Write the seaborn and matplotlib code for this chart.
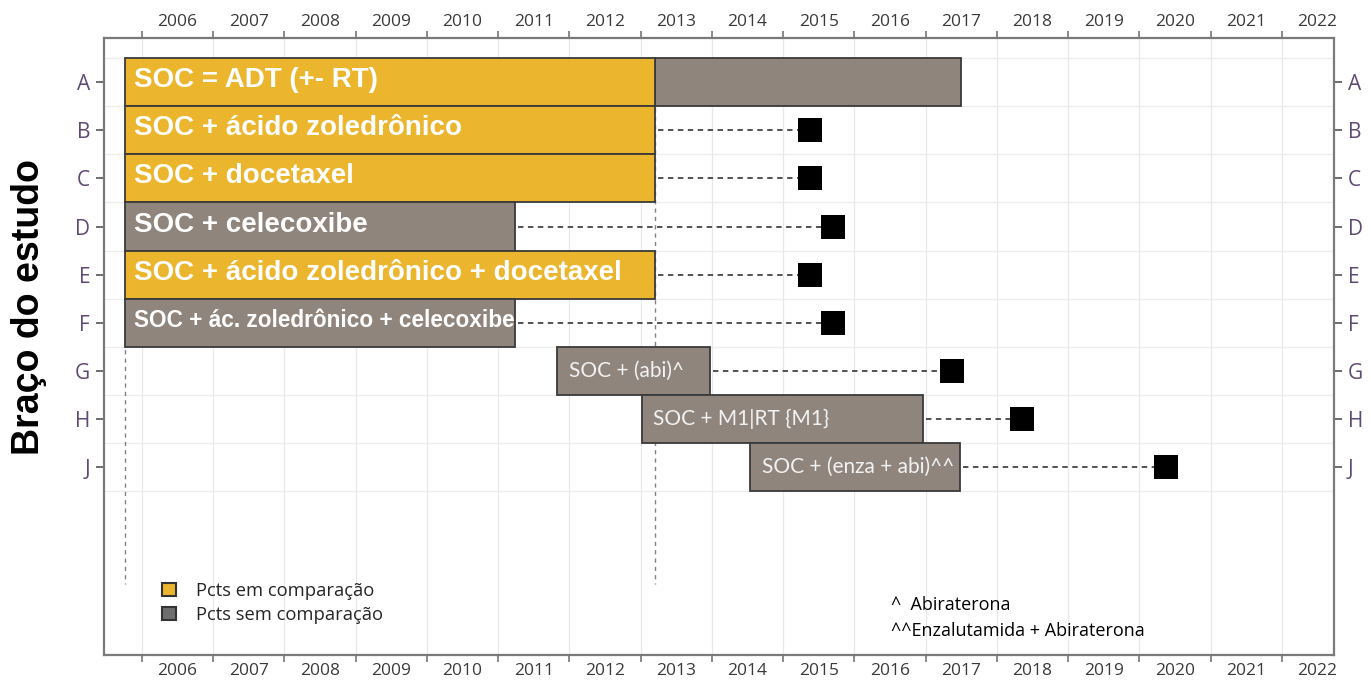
import matplotlib
matplotlib.use("Agg")
from matplotlib import pyplot as plt
from matplotlib.ticker import FixedLocator, NullFormatter
from matplotlib.patches import Patch
import pandas as pd
import seaborn as sns

# study arms (rows, top to bottom)
arms = ["A", "B", "C", "D", "E", "F", "G", "H", "J"]
arm_labels = ["SOC = ADT (+- RT)", "SOC + ácido zoledrônico", "SOC + docetaxel", "SOC + celecoxibe",
              "SOC + ácido zoledrônico + docetaxel", "SOC + ác. zoledrônico + celecoxibe",
              "SOC + (abi)^", "SOC + M1|RT {M1}", "SOC + (enza + abi)^^"]
start = [2005.76, 2005.76, 2005.76, 2005.76, 2005.76, 2005.76, 2011.83, 2013.02, 2014.54]
accrual_end = [2013.2, 2013.2, 2013.2, 2011.24, 2013.2, 2011.24, 2013.98, 2016.97, 2017.48]
compared = [True, True, True, False, True, False, False, False, False]
# extra non-comparison accrual of the control arm
control_end = 2017.5
# reporting markers (None for A)
report = [None, 2015.38, 2015.38, 2015.7, 2015.38, 2015.7, 2017.37, 2018.36, 2020.37]
years = list(range(2006, 2023))

YELLOW = "#EBB62E"
GRAY = "#8F857D"
PURPLE = "#5E4A75"

sns.set_theme(style="white")
plt.rcParams["font.family"] = ["Open Sans", "DejaVu Sans"]

fig = plt.figure(figsize=(13.71, 6.88), dpi=100)
ax = fig.add_axes([0.0759, 0.048, 0.897, 0.897])

ypos = list(range(len(arms)))

# grid
for yr in years:
    ax.axvline(yr, color="#e8e8e8", lw=0.9, zorder=0)
for y in ypos:
    ax.axhline(y - 0.5, color="#ececec", lw=0.9, zorder=0)
ax.axhline(ypos[-1] + 0.5, color="#ececec", lw=0.9, zorder=0)

# dashed vertical reference lines
for xv in [start[0], accrual_end[0]]:
    ax.plot([xv, xv], [-0.5, 10.42], ls=(0, (3, 3)), color="#8a7a90", lw=1.0, zorder=1)

# control arm continuation
ax.barh(0, control_end - accrual_end[0], left=accrual_end[0], height=1.0, color=GRAY,
        edgecolor="#3a3a3a", lw=1.3, zorder=3)

for i, arm in enumerate(arms):
    col = YELLOW if compared[i] else GRAY
    ax.barh(i, accrual_end[i] - start[i], left=start[i], height=1.0, color=col,
            edgecolor="#3a3a3a", lw=1.3, zorder=3)
    if report[i] is not None:
        ax.plot([accrual_end[i] + 0.04, report[i]], [i, i], ls=(0, (3, 2.5)), color="#444444",
                lw=1.3, zorder=2)

df = pd.DataFrame({"y": [y for y, r in zip(ypos, report) if r is not None],
                   "x": [r for r in report if r is not None]})
sns.scatterplot(data=df, x="x", y="y", marker="s", s=300, color="black", edgecolor="black",
                linewidth=0, zorder=5, ax=ax)

# bar texts
for i in range(6):
    fs = 16.3 if i == 5 else 20
    ax.text(start[i] + 0.13, i - 0.04, arm_labels[i], color="white", fontsize=fs, fontweight="bold",
            family=["Liberation Sans", "DejaVu Sans"], va="center", ha="left", zorder=6)
for i in range(6, 9):
    ax.text(start[i] + 0.16, i, arm_labels[i], color="#f2f2f2", fontsize=15,
            family=["Lato", "DejaVu Sans"], va="center", ha="left", zorder=6)

ax.set_xlim(2005.47, 2022.73)
ax.set_ylim(11.9, -0.92)

# x axis: ticks at year boundaries, labels mid-year, on top and bottom
ax.xaxis.set_major_locator(FixedLocator(years))
ax.xaxis.set_major_formatter(NullFormatter())
ax.set_xticks([y + 0.5 for y in years], [str(y) for y in years], minor=True)
ax.tick_params(axis="x", which="major", top=True, bottom=True, length=5, width=1.2,
               color="#777777", direction="out")
ax.tick_params(axis="x", which="minor", top=True, bottom=True, labeltop=True, labelbottom=True,
               length=0, labelsize=12.5, labelcolor="#3a3a3a", pad=6)

ax.set_yticks(ypos, arms)
ax.tick_params(axis="y", left=True, right=True, labelleft=True, labelright=True, length=6,
               width=1.2, color="#555555", labelsize=15, labelcolor=PURPLE, pad=4)

for s in ax.spines.values():
    s.set_color("#7a7a7a")
    s.set_linewidth(1.6)

ax.set_xlabel("")
ax.set_ylabel("")
fig.text(0.021, 0.554, "Braço do estudo", rotation=90, fontsize=27, fontweight="bold",
         family=["Liberation Sans", "DejaVu Sans"], va="center", ha="center", color="black")

# legend
handles = [Patch(facecolor=YELLOW, edgecolor="#333333", lw=1.5, label="Pcts em comparação"),
           Patch(facecolor="#6e6e6e", edgecolor="#333333", lw=1.5, label="Pcts sem comparação")]
ax.legend(handles=handles, loc="lower left", bbox_to_anchor=(0.034, 0.024), frameon=False,
          handlelength=0.75, handleheight=0.75, handletextpad=1.1, labelspacing=0.32,
          prop={"family": ["Open Sans", "DejaVu Sans"], "size": 13.2})

fig.text(0.650, 0.114, "^  Abiraterona", fontsize=13, color="black", family=["Open Sans", "DejaVu Sans"])
fig.text(0.650, 0.076, "^^Enzalutamida + Abiraterona", fontsize=13, color="black",
         family=["Open Sans", "DejaVu Sans"])

fig.savefig("out.png", dpi=100)
